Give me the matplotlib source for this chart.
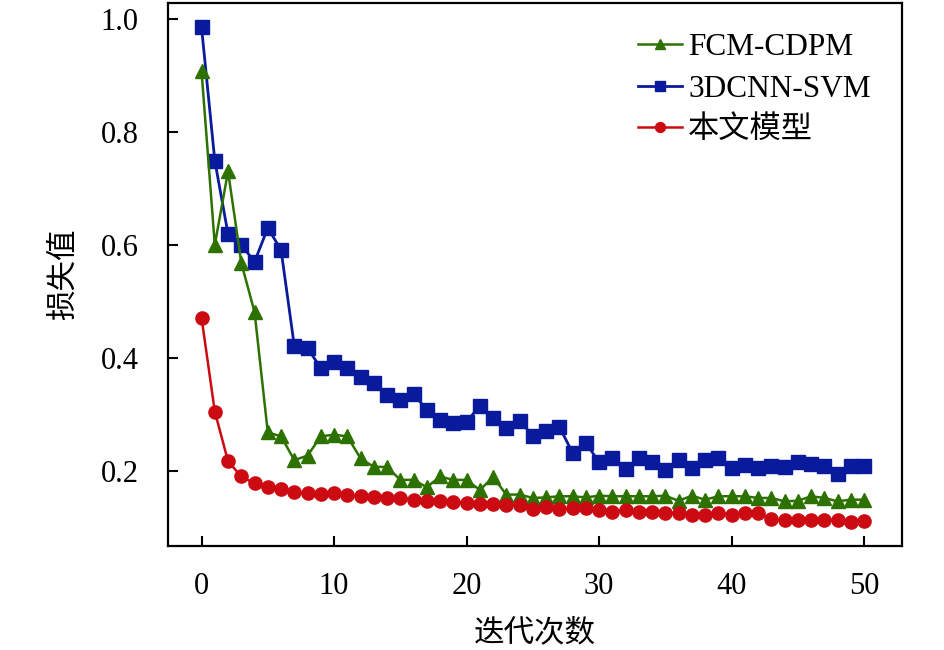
import matplotlib
matplotlib.use("Agg")
import matplotlib.pyplot as plt

iterations = list(range(51))

fcm_cdpm = [0.907, 0.600, 0.730, 0.568, 0.481, 0.268, 0.261, 0.219, 0.227, 0.261,
            0.264, 0.261, 0.222, 0.207, 0.207, 0.184, 0.184, 0.171, 0.190, 0.184,
            0.184, 0.166, 0.189, 0.158, 0.158, 0.152, 0.153, 0.155, 0.155, 0.153,
            0.156, 0.155, 0.155, 0.155, 0.155, 0.156, 0.147, 0.156, 0.149, 0.155,
            0.155, 0.155, 0.152, 0.152, 0.146, 0.147, 0.155, 0.152, 0.146, 0.149,
            0.149]

cnn_svm = [0.985, 0.749, 0.619, 0.600, 0.570, 0.630, 0.591, 0.421, 0.417, 0.382,
           0.393, 0.382, 0.366, 0.355, 0.335, 0.325, 0.336, 0.308, 0.290, 0.284,
           0.287, 0.315, 0.293, 0.275, 0.289, 0.262, 0.270, 0.278, 0.232, 0.250,
           0.215, 0.222, 0.203, 0.222, 0.215, 0.202, 0.219, 0.205, 0.219, 0.222,
           0.205, 0.211, 0.205, 0.209, 0.207, 0.216, 0.212, 0.208, 0.195, 0.209,
           0.209]

ours = [0.471, 0.305, 0.217, 0.190, 0.178, 0.172, 0.167, 0.163, 0.160, 0.159,
        0.160, 0.158, 0.155, 0.153, 0.152, 0.152, 0.149, 0.146, 0.146, 0.145,
        0.143, 0.142, 0.142, 0.140, 0.140, 0.132, 0.136, 0.132, 0.134, 0.134,
        0.131, 0.128, 0.131, 0.128, 0.128, 0.126, 0.125, 0.122, 0.122, 0.126,
        0.122, 0.125, 0.126, 0.114, 0.113, 0.113, 0.113, 0.113, 0.113, 0.110,
        0.111]

labels = ["FCM-CDPM", "3DCNN-SVM", "本文模型"]
x_ticks = [0, 10, 20, 30, 40, 50]
y_ticks = [0.2, 0.4, 0.6, 0.8, 1.0]

fams = ["Liberation Serif", "Noto Sans CJK SC", "DejaVu Sans"]
plt.rcParams["font.family"] = fams

fig = plt.figure(figsize=(9.45, 6.5), dpi=100)
ax = fig.add_axes([0.1778, 0.160, 0.7767, 0.8354])

ax.plot(iterations, fcm_cdpm, color="#2d7200", lw=1.8, marker="^", ms=9.5,
        label=labels[0], zorder=3)
ax.plot(iterations, cnn_svm, color="#0a1a9c", lw=2.0, marker="s", ms=9.5,
        label=labels[1], zorder=2)
ax.plot(iterations, ours, color="#cc0a12", lw=1.8, marker="o", ms=9.5,
        label=labels[2], zorder=4)

ax.set_xlim(-2.53, 52.86)
ax.set_ylim(0.067, 1.028)
ax.set_xticks(x_ticks)
ax.set_yticks(y_ticks)
ax.set_yticklabels([f"{v:.1f}" for v in y_ticks])
ax.tick_params(direction="in", length=7, width=1.5, labelsize=22)
ax.tick_params(axis="x", pad=19)
ax.tick_params(axis="y", pad=21)
for s in ax.spines.values():
    s.set_linewidth(1.6)

ax.set_xlabel("迭代次数", fontsize=22, labelpad=13)
ax.set_ylabel("损失值", fontsize=22, labelpad=16)

leg = ax.legend(loc="upper right", bbox_to_anchor=(0.987, 0.985), frameon=False,
                fontsize=22.5, handlelength=1.4, handletextpad=0.2,
                labelspacing=0.4, borderaxespad=0.3, markerscale=0.75)

fig.savefig("out.png", dpi=100)
